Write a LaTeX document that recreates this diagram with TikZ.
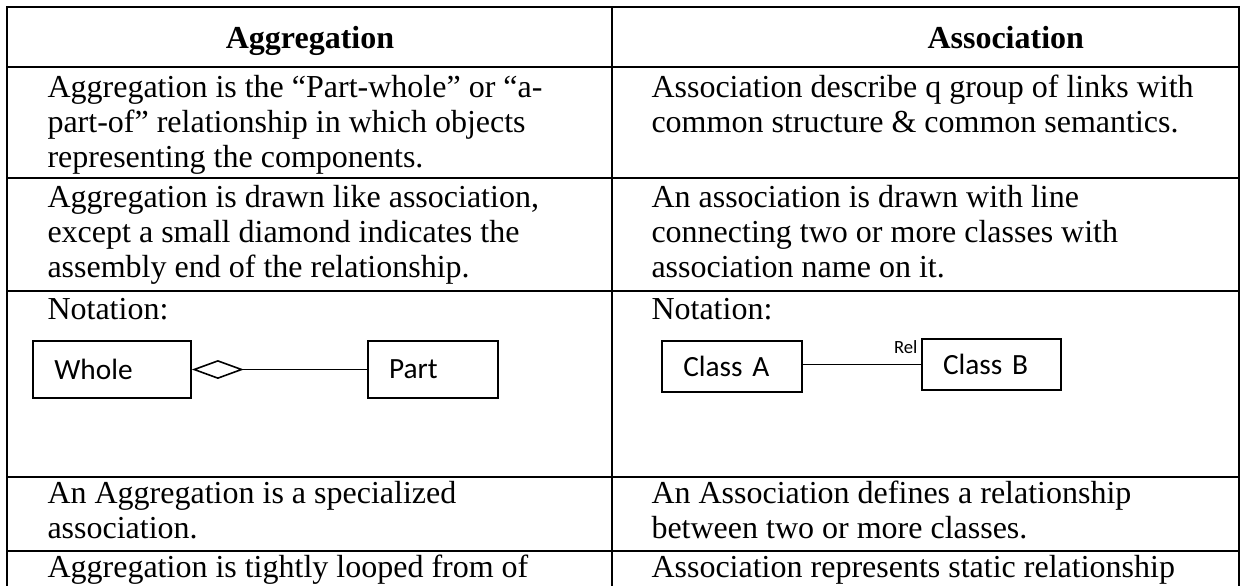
\documentclass[tikz,border=0pt]{standalone}
\usepackage{fontspec}
\setmainfont{Liberation Serif}
\newfontfamily\umlfont{Carlito}
\usetikzlibrary{arrows.meta,positioning}

\begin{document}
\begin{tikzpicture}[x=0.375pt,y=-0.375pt,
    tabline/.style={line width=0.75pt},
    head/.style={inner sep=0pt,font=\fontsize{12}{13.125}\selectfont\bfseries},
    cell/.style={anchor=base west,inner sep=0pt,align=left,font=\fontsize{12}{13.125}\selectfont},
    umlbox/.style={draw,line width=0.65pt,inner xsep=8pt,inner ysep=0pt,align=left,
      font=\umlfont\fontsize{11}{13}\selectfont},
    link/.style={line width=0.6pt}]
  \clip (0,0) rectangle (1241,585);

  % table rules
  \draw[tabline] (7,600) -- (7,7) -- (1239,7) -- (1239,600);
  \draw[tabline] (612,7) -- (612,600);
  \foreach \y in {67,178,291,477,551}
    \draw[tabline] (7,\y) -- (1239,\y);

  % header
  \node [head, anchor=base] (h_aggr) at (310,48) {Aggregation};
  \node [head, anchor=base west] (h_assoc) at (927,48) {Association};

  % left column (placed at the baseline of the last line)
  \node [cell] (aggr_1) at (47,167) {Aggregation is the “Part-whole” or “a-\\part-of” relationship in which objects\\representing the components.};
  \node [cell] (aggr_2) at (47,277) {Aggregation is drawn like association,\\except a small diamond indicates the\\assembly end of the relationship.};
  \node [cell] (aggr_3) at (47,319) {Notation:};
  \node [cell] (aggr_4) at (47,538) {An Aggregation is a specialized\\association.};
  \node [cell] (aggr_5) at (47,577) {Aggregation is tightly looped from of};

  % right column
  \node [cell] (assoc_1) at (651,132) {Association describe q group of links with\\common structure \& common semantics.};
  \node [cell] (assoc_2) at (651,277) {An association is drawn with line\\connecting two or more classes with\\association name on it.};
  \node [cell] (assoc_3) at (651,319) {Notation:};
  \node [cell] (assoc_4) at (651,538) {An Association defines a relationship\\between two or more classes.};
  \node [cell] (assoc_5) at (651,577) {Association represents static relationship};

  % notation: aggregation
  \node [umlbox, text width=43.25pt, minimum height=21.4pt] (whole) at (112,369.5) {Whole};
  \node [umlbox, text width=32.75pt, minimum height=21.4pt] (part) [right=65.6pt of whole] {Part};
  \draw[link, {Diamond[open,length=19.5pt,width=7.1pt]}-] (whole) -- (part);

  % notation: association
  \node [umlbox, text width=36.5pt, minimum height=19.1pt] (class_a) at (732,366.5) {Class A};
  \node [umlbox, text width=36.1pt, minimum height=19.1pt] (class_b) [right=44.25pt of class_a, yshift=0.75pt] {Class B};
  \draw[link] (class_a.east |- class_b) -- (class_b.west)
    node [pos=1, anchor=base east, inner sep=0pt, xshift=-1pt, yshift=4pt,
      font=\umlfont\fontsize{7}{8}\selectfont] (rel) {Rel};
\end{tikzpicture}
\end{document}
